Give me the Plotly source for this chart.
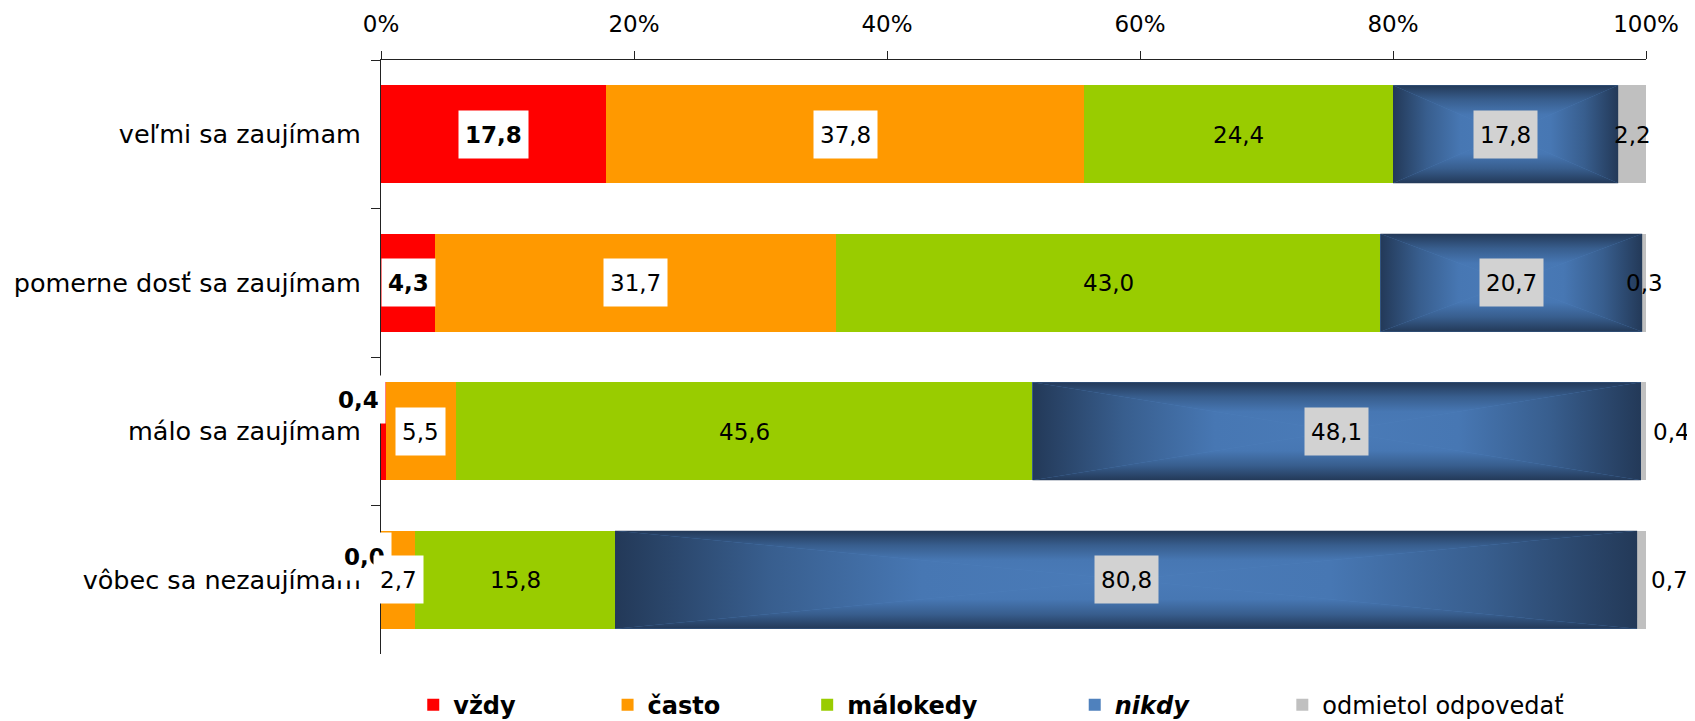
import plotly.graph_objects as go

# ---------------- data ----------------
categories = ["veľmi sa zaujímam", "pomerne dosť sa zaujímam", "málo sa zaujímam", "vôbec sa nezaujímam"]
series_names = ["vždy", "často", "málokedy", "nikdy", "odmietol odpovedať"]
vzdy = [17.8, 4.3, 0.4, 0.0]
casto = [37.8, 31.7, 5.5, 2.7]
malokedy = [24.4, 43.0, 45.6, 15.8]
nikdy = [17.8, 20.7, 48.1, 80.8]
odmietol = [2.2, 0.3, 0.4, 0.7]
tick_values = [0, 20, 40, 60, 80, 100]

series_values = [vzdy, casto, malokedy, nikdy, odmietol]

# ---------------- styles ----------------
FONT = "DejaVu Sans"
colors = ["#FF0000", "#FF9900", "#99CC00", "#4F81BD", "#C0C0C0"]
legend_labels = ["<b>vždy</b>", "<b>často</b>", "<b>málokedy</b>", "<b><i>nikdy</i></b>", "odmietol odpovedať"]
label_bg = ["white", "white", "rgba(0,0,0,0)", "#d2d2d2", "rgba(0,0,0,0)"]
label_bold = [True, False, False, False, False]
# manual label displacement (series index, row index) -> (xshift, yshift)
label_shift = {(0, 2): (-25, 32), (0, 3): (-17, 23), (4, 2): (28, 0), (4, 3): (28, 0)}
legend_x = [0.0255, 0.1791, 0.3369, 0.5484, 0.7125]
BARGAP = 0.34
# rectangular "from centre" gradient: 0 = centre, 1 = edge
nikdy_scale = [[0.0, "#4A7BB8"], [0.4, "#4777B3"], [0.7, "#385E8E"], [1.0, "#233958"]]
nikdy_scale_rev = [[1 - s, c] for s, c in reversed(nikdy_scale)]

fig = go.Figure()

legend_ids = ["legend", "legend2", "legend3", "legend4", "legend5"]
for k, (name, vals) in enumerate(zip(series_names, series_values)):
    fig.add_trace(go.Bar(
        y=categories, x=vals, orientation="h", name=legend_labels[k],
        marker=dict(color=colors[k], line=dict(width=0)),
        legend=legend_ids[k], hoverinfo="x+y",
    ))

# gradient overlay for the "nikdy" series (four triangles per bar)
half = (1 - BARGAP) / 2


def tri(xs, ys, orient, start, stop, scale):
    fig.add_trace(go.Scatter(
        x=xs, y=ys, mode="lines", line=dict(width=0), fill="toself",
        fillgradient=dict(type=orient, colorscale=scale, start=start, stop=stop),
        yaxis="y2", showlegend=False, hoverinfo="skip",
    ))


for i in range(len(categories)):
    x0 = vzdy[i] + casto[i] + malokedy[i]
    x1 = x0 + nikdy[i]
    xc = (x0 + x1) / 2
    y0, y1, yc = i - half, i + half, i
    tri([x0, x1, xc, x0], [y0, y0, yc, y0], "vertical", y0, yc, nikdy_scale_rev)
    tri([x0, x1, xc, x0], [y1, y1, yc, y1], "vertical", yc, y1, nikdy_scale)
    tri([x0, x0, xc, x0], [y0, y1, yc, y0], "horizontal", x0, xc, nikdy_scale_rev)
    tri([x1, x1, xc, x1], [y0, y1, yc, y0], "horizontal", xc, x1, nikdy_scale)

# data labels
for k, vals in enumerate(series_values):
    for i, v in enumerate(vals):
        start = sum(series_values[j][i] for j in range(k))
        txt = f"{v:.1f}".replace(".", ",")
        if label_bold[k]:
            txt = f"<b>{txt}</b>"
        xs, ys = label_shift.get((k, i), (0, 0))
        fig.add_annotation(
            x=start + v / 2, y=categories[i], text=txt, showarrow=False,
            xshift=xs, yshift=ys, bgcolor=label_bg[k], borderpad=6, height=35,
            valign="middle",
            font=dict(family=FONT, size=23, color="black"),
        )

legends = {}
for k, lid in enumerate(legend_ids):
    legends[lid] = dict(
        orientation="h", x=legend_x[k], xanchor="left", y=-0.0860, yanchor="middle",
        font=dict(family=FONT, size=24, color="black"), bgcolor="rgba(0,0,0,0)",
        itemclick=False, itemdoubleclick=False,
    )

fig.update_layout(
    width=1687, height=713,
    margin=dict(l=373, r=49, t=52, b=67, autoexpand=False),
    paper_bgcolor="white", plot_bgcolor="white",
    barmode="stack", bargap=BARGAP,
    font=dict(family=FONT, size=23, color="black"),
    showlegend=True,
    xaxis=dict(
        side="top", range=[0, 100], tickmode="array", tickvals=tick_values,
        ticktext=[f"{v}%" for v in tick_values],
        ticks="outside", ticklen=8, tickwidth=1, tickcolor="#222",
        showline=True, linecolor="#222", linewidth=1,
        showgrid=False, zeroline=False, ticklabelstandoff=10,
        tickfont=dict(family=FONT, size=23, color="black"),
    ),
    yaxis=dict(
        type="category", categoryorder="array", categoryarray=categories,
        range=[3.5, -0.5], ticks="outside", tickson="boundaries", ticklen=9,
        tickwidth=1, tickcolor="#222", showline=True, linecolor="#222", linewidth=1,
        showgrid=False, zeroline=False, ticklabelstandoff=14,
        tickfont=dict(family=FONT, size=25.5, color="black"),
    ),
    yaxis2=dict(overlaying="y", range=[3.5, -0.5], visible=False, showgrid=False, zeroline=False),
    **legends,
)

fig.write_html("out.html")
